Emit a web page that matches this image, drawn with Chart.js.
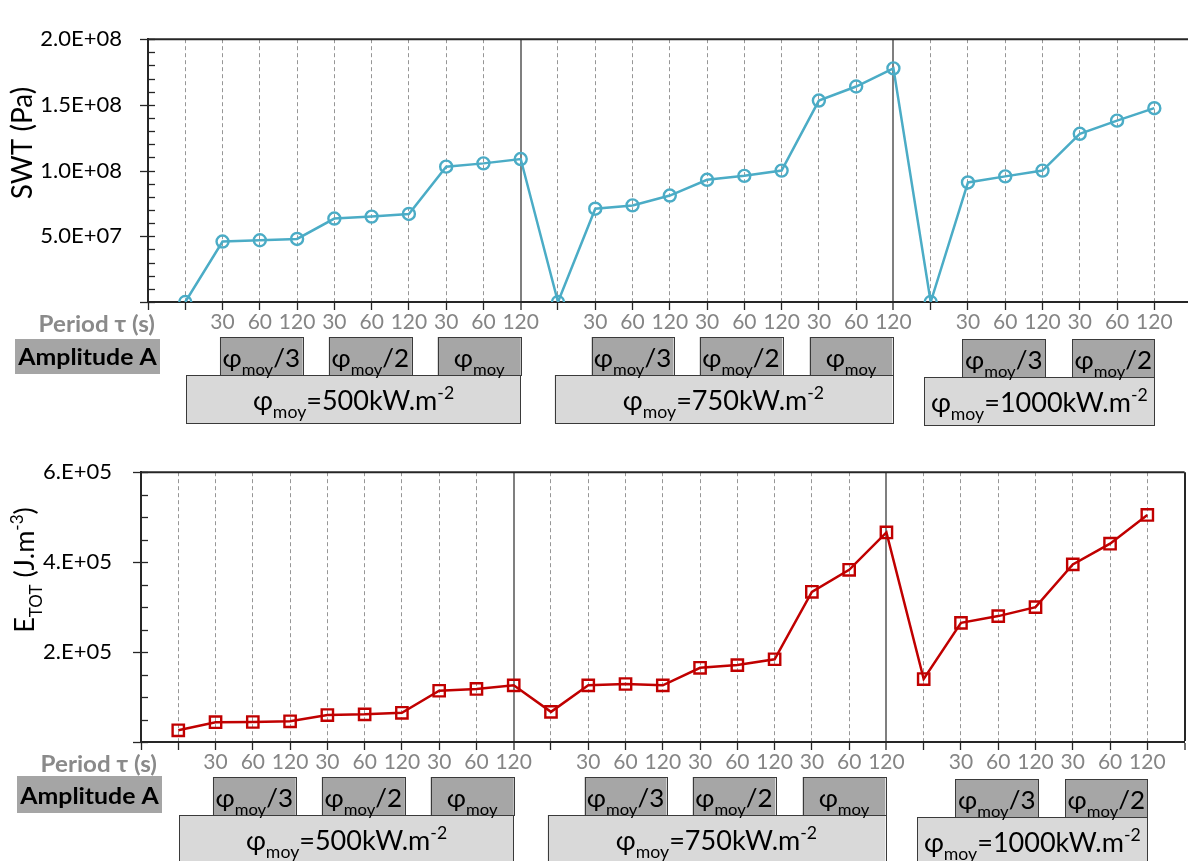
<!DOCTYPE html>
<html lang="en">
<head>
<meta charset="UTF-8">
<title>SWT and E_TOT versus period and amplitude</title>
<script src="https://cdn.jsdelivr.net/npm/chart.js@4.4.0/dist/chart.umd.min.js"></script>
<style>
  html, body { margin: 0; padding: 0; background: #fff; overflow: hidden; }
  #wrap { position: relative; width: 1188px; height: 861px; overflow: hidden; }
  canvas { position: absolute; left: 0; }
  #top { top: 0; }
  #bottom { top: 430px; }
</style>
</head>
<body>
<div id="wrap">
  <canvas id="top" width="1200" height="430" style="width:1200px;height:430px"></canvas>
  <canvas id="bottom" width="1200" height="431" style="width:1200px;height:431px"></canvas>
</div>
<script>
// x categories: index 0 is the y axis, 28 the right edge, blank = reference point
const periods = ['', '', '30', '60', '120', '30', '60', '120', '30', '60', '120',
                 '', '30', '60', '120', '30', '60', '120', '30', '60', '120',
                 '', '30', '60', '120', '30', '60', '120', ''];

// SWT (Pa)
const swt = [null, 0, 4.6e7, 4.7e7, 4.8e7, 6.35e7, 6.5e7, 6.7e7, 1.03e8, 1.055e8, 1.088e8,
             0, 7.1e7, 7.35e7, 8.1e7, 9.3e7, 9.6e7, 1.0e8, 1.533e8, 1.64e8, 1.778e8,
             0, 9.1e7, 9.56e7, 1.0e8, 1.28e8, 1.38e8, 1.475e8, null];

// E_TOT (J.m-3)
const etot = [null, 2.6e4, 4.4e4, 4.45e4, 4.6e4, 6.0e4, 6.15e4, 6.5e4, 1.14e5, 1.18e5, 1.26e5,
              6.7e4, 1.26e5, 1.29e5, 1.26e5, 1.65e5, 1.71e5, 1.84e5, 3.34e5, 3.83e5, 4.66e5,
              1.40e5, 2.65e5, 2.80e5, 3.0e5, 3.95e5, 4.41e5, 5.05e5, null];

const fluxLevels = ['500', '750', '1000'];          // phi_moy in kW.m-2
const amplitudeLabels = [['/3', '/2', ''], ['/3', '/2', ''], ['/3', '/2']];

// box extents in category-index units
const groupSpan = [[1.03, 10.0], [10.91, 19.97], [20.83, 27.0]];
const ampSpan = [[[1.93, 4.15], [4.85, 7.08], [7.77, 10.0]],
                 [[11.9, 14.1], [14.8, 17.02], [17.75, 19.97]],
                 [[21.85, 24.07], [24.8, 27.0]]];
const groupDrop = [0, 0, 2];

const FONT = "Lato, 'Noto Sans', sans-serif";
const AXIS = '#262626';

function richText(ctx, parts, x, y, size, opt) {
    // parts: [text, 'n' | 'sub' | 'sup']; x is the anchor, y the baseline
    const w8 = opt.bold ? 'bold ' : '';
    const fontFor = k => w8 + (k === 'n' ? size : Math.round(size * 0.64)) + 'px ' + FONT;
    let w = 0;
    parts.forEach(([t, k]) => { ctx.font = fontFor(k); w += ctx.measureText(t).width; });
    ctx.save();
    ctx.translate(x, y);
    ctx.scale(opt.sx || 1, 1);
    let cx = opt.align === 'right' ? -w : opt.align === 'left' ? 0 : -w / 2;
    ctx.fillStyle = opt.color || '#000';
    ctx.textAlign = 'left';
    ctx.textBaseline = 'alphabetic';
    parts.forEach(([t, k]) => {
        ctx.font = fontFor(k);
        const dy = k === 'sub' ? size * 0.3 : k === 'sup' ? -size * 0.42 : 0;
        ctx.fillText(t, cx, dy);
        cx += ctx.measureText(t).width;
    });
    ctx.restore();
}

function box(ctx, x0, y0, x1, y1, fill, stroke) {
    ctx.fillStyle = fill;
    ctx.fillRect(x0, y0, x1 - x0, y1 - y0);
    if (stroke) {
        ctx.strokeStyle = stroke;
        ctx.lineWidth = 1;
        ctx.strokeRect(Math.round(x0) + 0.5, Math.round(y0) + 0.5, Math.round(x1 - x0), Math.round(y1 - y0));
    }
}

function decor(cfg) {
    return {
        id: 'decor',
        afterDraw(chart) {
            const ctx = chart.ctx, a = chart.chartArea;
            const xs = chart.scales.x, ys = chart.scales.y;
            ctx.save();

            // top frame line
            ctx.strokeStyle = AXIS;
            ctx.lineWidth = 2;
            ctx.beginPath();
            ctx.moveTo(a.left, a.top);
            ctx.lineTo(a.right, a.top);
            ctx.stroke();

            // y tick marks: major ones cross the axis, minor ones sit inside
            ctx.lineWidth = 1.3;
            const n = Math.round(ys.max / cfg.minor);
            for (let k = 0; k <= n; k++) {
                const y = Math.round(ys.getPixelForValue(k * cfg.minor)) + 0.5;
                const major = k % cfg.perMajor === 0;
                ctx.beginPath();
                ctx.moveTo(a.left - (major ? 8 : 0), y);
                ctx.lineTo(a.left + 7, y);
                ctx.stroke();
            }

            // y title
            ctx.save();
            ctx.translate(cfg.titleX, cfg.titleY);
            ctx.rotate(-Math.PI / 2);
            richText(ctx, cfg.title, 0, 0, cfg.titleSize, {});
            ctx.restore();

            // row labels
            richText(ctx, [['Period τ (s)', 'n']], cfg.periodRight, a.bottom + 30, 22,
                     {bold: true, color: '#8a8a8a', align: 'right', sx: 1.1});
            const ab = cfg.ampBox;
            box(ctx, ab[0], a.bottom + ab[1], ab[2], a.bottom + ab[3], '#a5a5a5');
            richText(ctx, [['Amplitude A', 'n']], (ab[0] + ab[2]) / 2, a.bottom + ab[3] - 9, 23,
                     {bold: true, sx: 1.08});

            // amplitude and flux boxes
            fluxLevels.forEach((flux, g) => {
                const d = groupDrop[g];
                const bigTop = a.bottom + 73 + d, bigBot = a.bottom + 121 + d;
                const gx0 = xs.getPixelForValue(groupSpan[g][0]), gx1 = xs.getPixelForValue(groupSpan[g][1]);
                box(ctx, gx0, bigTop, gx1, bigBot, '#d9d9d9', '#3a3a3a');
                richText(ctx, [['φ', 'n'], ['moy', 'sub'], ['=' + flux + 'kW.m', 'n'], ['-2', 'sup']],
                         (gx0 + gx1) / 2, bigTop + 35, 26, {sx: 1.04});
                amplitudeLabels[g].forEach((lab, j) => {
                    const sx0 = xs.getPixelForValue(ampSpan[g][j][0]), sx1 = xs.getPixelForValue(ampSpan[g][j][1]);
                    const st = a.bottom + 35 + d, sb = a.bottom + 73 + d;
                    box(ctx, sx0, st, sx1, sb, '#a6a6a6', '#3a3a3a');
                    const parts = [['φ', 'n'], ['moy', 'sub']];
                    if (lab) parts.push([lab, 'n']);
                    richText(ctx, parts, (sx0 + sx1) / 2, sb - 8, 25, {sx: 1.04});
                });
            });
            ctx.restore();
        }
    };
}

function makeChart(id, data, color, pointStyle, radius, yMax, yStep, fmt, layoutCfg, decoCfg) {
    const sep = i => i === 10 || i === 20;
    return new Chart(document.getElementById(id), {
        type: 'line',
        data: {
            labels: periods,
            datasets: [{
                data: data,
                borderColor: color,
                borderWidth: 2.5,
                pointStyle: pointStyle,
                pointRadius: radius,
                pointBorderWidth: 2.4,
                pointBorderColor: color,
                pointBackgroundColor: 'rgba(255,255,255,0)',
                tension: 0
            }]
        },
        options: {
            responsive: false,
            animation: false,
            events: [],
            layout: { padding: { top: layoutCfg.top, right: layoutCfg.right, left: 0, bottom: 0 } },
            plugins: { legend: { display: false }, tooltip: { enabled: false } },
            scales: {
                x: {
                    type: 'category',
                    offset: false,
                    afterFit: s => { s.height = layoutCfg.xHeight; },
                    grid: {
                        color: c => c.index === 0 ? 'rgba(0,0,0,0)' : c.index === 28 ? AXIS : sep(c.index) ? '#7f7f7f' : '#969696',
                        lineWidth: c => (c.index === 28 || sep(c.index)) ? 2 : 1,
                        drawTicks: true,
                        tickLength: 8,
                        tickColor: AXIS,
                        tickWidth: 1.3,
                        tickBorderDash: []
                    },
                    border: { display: true, color: AXIS, width: 2,
                              dash: c => (c.index === 28 || sep(c.index)) ? [] : [4, 3] },
                    ticks: { color: '#858585', font: { family: FONT, size: 21 }, padding: 0,
                             autoSkip: false, maxRotation: 0, minRotation: 0 }
                },
                y: {
                    min: 0,
                    max: yMax,
                    afterFit: s => { s.width = layoutCfg.yWidth; },
                    grid: { display: false, drawTicks: false },
                    border: { display: true, color: AXIS, width: 2 },
                    ticks: { stepSize: yStep, color: '#000', font: { family: FONT, size: 22 },
                             padding: layoutCfg.labelGap, callback: v => v === 0 ? '' : fmt(v) }
                }
            }
        },
        plugins: [decor(decoCfg)]
    });
}

makeChart('top', swt, '#4bacc6', 'circle', 6, 2e8, 5e7,
    v => v.toExponential(1).toUpperCase().replace(/E([+-])(\d)$/, 'E$10$2'),
    { top: 19, right: 7.6, xHeight: 128, yWidth: 148, labelGap: 26 },
    { minor: 1e7, perMajor: 5, titleX: 32, titleY: 143, titleSize: 28, title: [['SWT (Pa)', 'n']],
      periodRight: 155, ampBox: [15, 37, 160, 72] });

makeChart('bottom', etot, '#c00000', 'rect', 8, 6e5, 2e5,
    v => v.toExponential(0).toUpperCase().replace(/^(\d)E([+-])(\d)$/, '$1.E$20$3'),
    { top: 28, right: 15.4, xHeight: 119, yWidth: 141, labelGap: 29 },
    { minor: 5e4, perMajor: 4, titleX: 34, titleY: 140, titleSize: 27,
      title: [['E', 'n'], ['TOT', 'sub'], [' (J.m', 'n'], ['-3', 'sup'], [')', 'n']],
      periodRight: 157, ampBox: [17, 34, 162, 71] });
</script>
</body>
</html>
